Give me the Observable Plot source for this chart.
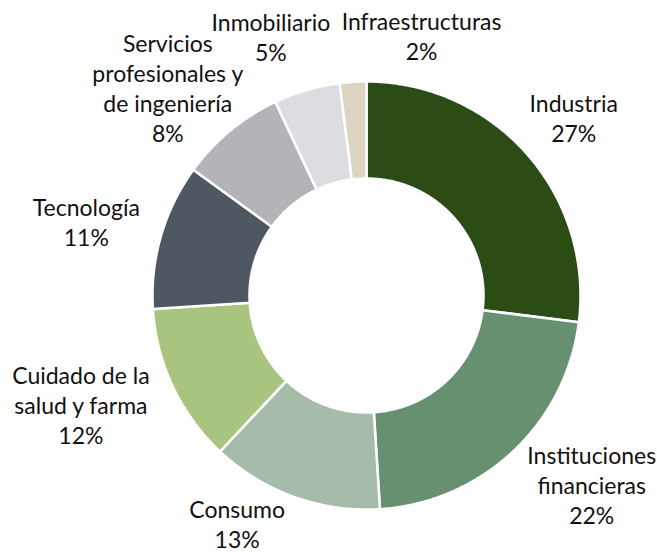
<!DOCTYPE html>
<html>
<head>
<meta charset="utf-8">
<script src="https://cdn.jsdelivr.net/npm/d3@7"></script>
<script src="https://cdn.jsdelivr.net/npm/@observablehq/plot@0.6"></script>
<style>
  html, body { margin: 0; padding: 0; background: #fff; }
  #chart { width: 657px; height: 552px; }
</style>
</head>
<body>
<div id="chart"></div>
<script>
// ---- data ----
const categories = ["Industria", "Instituciones financieras", "Consumo", "Cuidado de la salud y farma", "Tecnología", "Servicios profesionales y de ingeniería", "Inmobiliario", "Infraestructuras"];
const labelText = ["Industria", "Instituciones\nfinancieras", "Consumo", "Cuidado de la\nsalud y farma", "Tecnología", "Servicios\nprofesionales y\nde ingeniería", "Inmobiliario", "Infraestructuras"];
const shares = [27, 22, 13, 12, 11, 8, 5, 2];
const colors = ["#2b4d15", "#66906f", "#a5bcaa", "#a9c47f", "#4f5862", "#b4b3b8", "#dcdde1", "#ddd4c2"];

// ---- layout ----
const W = 657, H = 552;
const cx = 366, cy = 295, R = 214, r = 117;
const labelGap = 20, lineH = 30, charW = 10.5, fontSize = 23;
const nudges = [[-3, -4], [19, -14], [-38, -20], [-13, -9], [-6, -1], [0, 18], [-13, -7], [75, 2]];

const pie = d3.pie().sort(null).value(d => d)(shares);

function polar(rad, ang) { return [cx + rad * Math.sin(ang), cy - rad * Math.cos(ang)]; }

const slices = pie.map((p, i) => {
  const pts = [];
  const n = Math.max(4, Math.ceil((p.endAngle - p.startAngle) / 0.01));
  for (let k = 0; k <= n; k++) {
    const a = p.startAngle + (p.endAngle - p.startAngle) * k / n;
    const [x, y] = polar(R, a); pts.push({x, y});
  }
  for (let k = n; k >= 0; k--) {
    const a = p.startAngle + (p.endAngle - p.startAngle) * k / n;
    const [x, y] = polar(r, a); pts.push({x, y});
  }
  return pts;
});

const labels = pie.map((p, i) => {
  const mid = (p.startAngle + p.endAngle) / 2;
  const lines = (labelText[i] + "\n" + shares[i] + "%").split("\n");
  const w = d3.max(lines, l => l.length) * charW;
  const h = lines.length * lineH;
  const [ax, ay] = polar(R - 1 + labelGap, mid);
  return {
    x: ax + Math.sin(mid) * w / 2 + nudges[i][0],
    y: ay - Math.cos(mid) * h / 2 + nudges[i][1],
    text: lines.join("\n")
  };
});

const marks = slices.map((pts, i) => Plot.line(pts, {
  x: "x", y: "y", fill: colors[i], stroke: "#ffffff", strokeWidth: 2.5,
  curve: "linear-closed", strokeLinejoin: "miter"
}));
marks.push(Plot.text(labels, {
  x: "x", y: "y", text: "text", fontSize, lineHeight: lineH / fontSize,
  fill: "#111111", fontFamily: "Lato", textAnchor: "middle"
}));

const chart = Plot.plot({
  width: W, height: H,
  margin: 0,
  x: {domain: [0, W], range: [0, W], axis: null},
  y: {domain: [0, H], range: [0, H], axis: null},
  style: {fontFamily: "Lato", background: "#fff"},
  marks
});
document.getElementById("chart").appendChild(chart);
</script>
</body>
</html>
